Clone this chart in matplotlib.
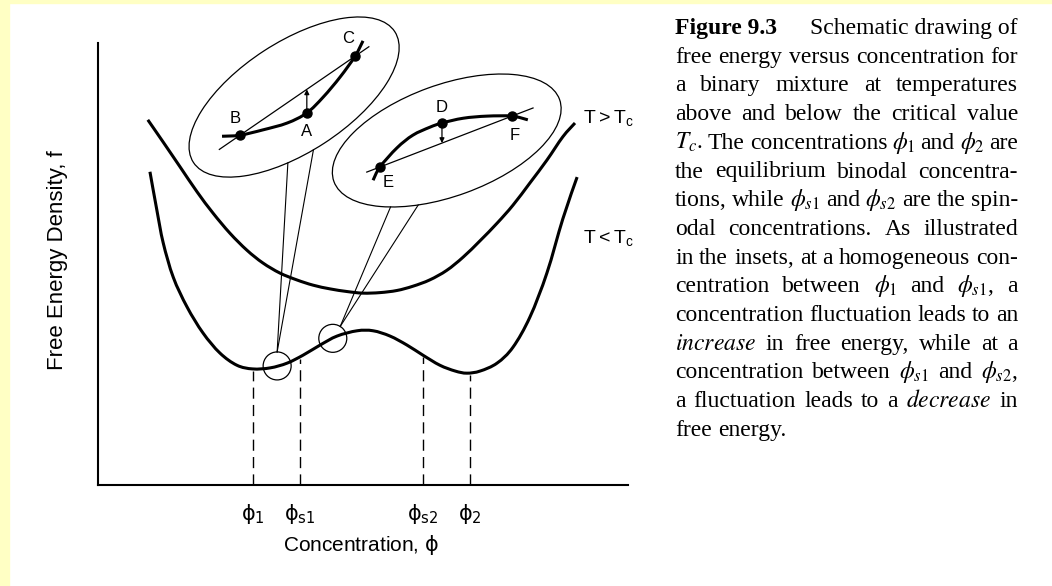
import numpy as np
import matplotlib
matplotlib.use('Agg')
import matplotlib.pyplot as plt
from matplotlib.patches import Ellipse, Circle, Rectangle, PathPatch
from matplotlib.path import Path

# free energy density f(phi) above and below Tc (arbitrary units, same scale on both axes)
phi_hot = [0.094, 0.123, 0.155, 0.187, 0.217, 0.249, 0.281, 0.311, 0.343, 0.375,
           0.406, 0.438, 0.470, 0.500, 0.532, 0.564, 0.594, 0.626, 0.658, 0.689,
           0.721, 0.753, 0.783, 0.815, 0.847, 0.877, 0.900]
f_hot = [0.689, 0.647, 0.600, 0.553, 0.513, 0.475, 0.443, 0.419, 0.400, 0.387,
         0.377, 0.370, 0.365, 0.362, 0.363, 0.367, 0.375, 0.387, 0.405, 0.430,
         0.461, 0.494, 0.528, 0.570, 0.613, 0.657, 0.683]

phi_cold = [0.098, 0.111, 0.123, 0.142, 0.168, 0.198, 0.230, 0.262, 0.292, 0.325,
            0.357, 0.387, 0.419, 0.451, 0.489, 0.519, 0.551, 0.583, 0.613, 0.645,
            0.674, 0.696, 0.721, 0.753, 0.783, 0.815, 0.847, 0.877, 0.904]
f_cold = [0.591, 0.519, 0.457, 0.392, 0.336, 0.287, 0.249, 0.226, 0.219, 0.221,
          0.230, 0.245, 0.264, 0.281, 0.291, 0.291, 0.281, 0.264, 0.245, 0.226,
          0.215, 0.211, 0.215, 0.230, 0.260, 0.317, 0.400, 0.502, 0.581]

# binodal and spinodal concentrations
phi_marks = [0.292, 0.381, 0.613, 0.702]
mark_labels = [r'$\mathrm{\phi_1}$', r'$\mathrm{\phi_{s1}}$',
               r'$\mathrm{\phi_{s2}}$', r'$\mathrm{\phi_2}$']

# homogeneous concentrations magnified in the insets
phi_probe = [0.338, 0.443]

# inset 1: stable region (convex), points B, A, C
ins1_phi = [0.234, 0.268, 0.311, 0.357, 0.394, 0.425, 0.457, 0.485, 0.500]
ins1_f = [0.658, 0.660, 0.670, 0.683, 0.702, 0.732, 0.770, 0.809, 0.838]
ins1_pts = {'B': 1, 'A': 4, 'C': 7}

# inset 2: unstable region (concave), points E, D, F
ins2_phi = [0.519, 0.532, 0.564, 0.594, 0.626, 0.649, 0.689, 0.734, 0.781, 0.811]
ins2_f = [0.575, 0.600, 0.636, 0.660, 0.675, 0.683, 0.692, 0.696, 0.696, 0.689]
ins2_pts = {'E': 1, 'D': 5, 'F': 8}

caption = [
    'free energy versus concentration for',
    'a binary mixture at temperatures',
    'above and below the critical value',
    r'$T_c$. The concentrations $\phi_1$ and $\phi_2$ are',
    'the equilibrium binodal concentra-',
    r'tions, while $\phi_{s1}$ and $\phi_{s2}$ are the spin-',
    'odal concentrations. As illustrated',
    'in the insets, at a homogeneous con-',
    r'centration between $\phi_1$ and $\phi_{s1}$, a',
    'concentration fluctuation leads to an',
    r'$\mathit{increase}$ in free energy, while at a',
    r'concentration between $\phi_{s1}$ and $\phi_{s2}$,',
    r'a fluctuation leads to a $\mathit{decrease}$ in',
    'free energy.',
]

W, H = 1052, 586
fig = plt.figure(figsize=(W / 100, H / 100), dpi=100)
fig.patch.set_facecolor('white')
fig.patches.append(Rectangle((0, 0), 9 / W, 1, transform=fig.transFigure,
                             color='#ffffc4', zorder=0))
fig.patches.append(Rectangle((0, 1 - 3 / H), 1, 3 / H, transform=fig.transFigure,
                             color='#ffffc4', zorder=0))

ax = fig.add_axes([98 / W, (H - 485) / H, 530 / W, 442 / H])
ax.set_xlim(0, 1)
ax.set_ylim(0, 442 / 530)
ax.set_facecolor('none')
for s in ['top', 'right']:
    ax.spines[s].set_visible(False)
for s in ['left', 'bottom']:
    ax.spines[s].set_linewidth(1.5)
ax.set_xticks([])
ax.set_yticks([])

sans = 'Liberation Sans'
ax.set_ylabel('Free Energy Density, f', family=sans, fontsize=16)
ax.yaxis.set_label_coords(-0.057, 0.509)
ax.set_xlabel(r'Concentration, $\mathrm{\phi}$', family=sans, fontsize=15,
              math_fontfamily='dejavusans')
ax.xaxis.set_label_coords(0.496, -0.108)


def smooth_line(xs, ys, **kw):
    # Catmull-Rom through the points, drawn as cubic Bezier segments
    p = np.column_stack([xs, ys])
    ext = np.vstack([p[0], p, p[-1]])
    verts = [p[0]]
    codes = [Path.MOVETO]
    for i in range(len(p) - 1):
        p0, p1, p2, p3 = ext[i], ext[i + 1], ext[i + 2], ext[i + 3]
        verts += [p1 + (p2 - p0) / 6, p2 - (p3 - p1) / 6, p2]
        codes += [Path.CURVE4] * 3
    ax.add_patch(PathPatch(Path(verts, codes), fill=False, clip_on=False, **kw))


smooth_line(phi_hot, f_hot, ec='k', lw=2.2, capstyle='butt')
smooth_line(phi_cold, f_cold, ec='k', lw=2.2, capstyle='butt')

ax.text(0.915, 0.692, r'$\mathregular{T > T_c}$', family=sans, fontsize=14, va='center')
ax.text(0.915, 0.466, r'$\mathregular{T < T_c}$', family=sans, fontsize=14, va='center')

# dashed drops to the concentration axis
for p, lab in zip(phi_marks, mark_labels):
    top = np.interp(p, phi_cold, f_cold)
    ax.plot([p, p], [0, top - 0.004], color='k', lw=1.0, ls=(0, (8, 4.5)))
    ax.annotate(lab, (p, 0), xytext=(0, -12), textcoords='offset points',
                ha='center', va='top', fontsize=15, math_fontfamily='dejavusans')

# magnifying circles on the T < Tc curve
r_circ = 14 / 530
probe_f = np.interp(phi_probe, phi_cold, f_cold)
for p, fv in zip(phi_probe, probe_f):
    ax.add_patch(Circle((p, fv), r_circ, fill=False, lw=0.9, ec='k', clip_on=False))

# inset ellipses: center, width, height, angle
ell_1 = dict(xy=(0.370, 0.732), width=0.453, height=0.208, angle=33)
ell_2 = dict(xy=(0.658, 0.650), width=0.453, height=0.210, angle=20)
conn_t = [(-110, -96), (-129, -114)]   # where the leader lines meet each ellipse
conn_circ = [90, 58]                     # where they meet each circle


def on_ellipse(e, t):
    a, b = e['width'] / 2, e['height'] / 2
    th = np.radians(e['angle'])
    t = np.radians(t)
    u, v = a * np.cos(t), b * np.sin(t)
    return (e['xy'][0] + u * np.cos(th) - v * np.sin(th),
            e['xy'][1] + u * np.sin(th) + v * np.cos(th))


for e, ts, ca, p, fv in zip([ell_1, ell_2], conn_t, conn_circ, phi_probe, probe_f):
    ax.add_patch(Ellipse(e['xy'], e['width'], e['height'], angle=e['angle'],
                         fill=False, lw=0.9, ec='k', clip_on=False))
    cx = p + r_circ * np.cos(np.radians(ca))
    cy = fv + r_circ * np.sin(np.radians(ca))
    for t in ts:
        ex, ey = on_ellipse(e, t)
        ax.plot([cx, ex], [cy, ey], color='k', lw=0.8, clip_on=False)


def draw_inset(xs, ys, pts, ends, probe, offsets):
    smooth_line(xs, ys, ec='k', lw=2.2, capstyle='butt')
    p0, p1 = pts[ends[0]], pts[ends[1]]
    x0, y0, x1, y1 = xs[p0], ys[p0], xs[p1], ys[p1]
    k0, k1 = offsets
    ax.plot([x0 - k0 * (x1 - x0), x1 + k1 * (x1 - x0)],
            [y0 - k0 * (y1 - y0), y1 + k1 * (y1 - y0)],
            color='k', lw=0.9, clip_on=False)
    pm = pts[probe]
    chord = np.interp(xs[pm], [x0, x1], [y0, y1])
    ax.annotate('', xy=(xs[pm], chord), xytext=(xs[pm], ys[pm]),
                arrowprops=dict(arrowstyle='-|>', lw=0.9, color='k',
                                mutation_scale=7, shrinkA=0, shrinkB=0))
    for name, i in pts.items():
        ax.plot(xs[i], ys[i], 'o', color='k', ms=6.5, clip_on=False)


draw_inset(ins1_phi, ins1_f, ins1_pts, ('B', 'C'), 'A', (0.18, 0.12))
draw_inset(ins2_phi, ins2_f, ins2_pts, ('E', 'F'), 'D', (0.10, 0.16))

letter_offsets = {'B': (-3.6, 12.2), 'A': (0, -13.7), 'C': (-5, 13),
                  'D': (0, 11.5), 'E': (5.8, -11.5), 'F': (2, -13.7)}
for xs, ys, pts in [(ins1_phi, ins1_f, ins1_pts), (ins2_phi, ins2_f, ins2_pts)]:
    for name, i in pts.items():
        ax.annotate(name, (xs[i], ys[i]), xytext=letter_offsets[name],
                    textcoords='offset points', ha='center', va='center',
                    family=sans, fontsize=12)

# caption block, justified
cap_left, cap_right = 675, 1018
cap_base, cap_step = 34, 28.7
cap_size = 17
serif = 'Liberation Serif'


def cap_text(x, yb, s, **kw):
    opts = dict(fontsize=cap_size, family=serif, math_fontfamily='stix',
                va='baseline', ha='left')
    opts.update(kw)
    return fig.text(x / W, 1 - yb / H, s, **opts)


renderer = fig.canvas.get_renderer()
cap_text(cap_left, cap_base, 'Figure 9.3', weight='bold')
cap_text(cap_right, cap_base, 'Schematic drawing of', ha='right')
space = 0.25 * cap_size * 100 / 72
for i, line in enumerate(caption):
    yb = cap_base + cap_step * (i + 1)
    words = line.split(' ')
    items = [cap_text(cap_left, yb, w) for w in words]
    widths = [t.get_window_extent(renderer).width for t in items]
    if i == len(caption) - 1:
        gap = space
    else:
        gap = (cap_right - cap_left - sum(widths)) / (len(words) - 1)
    x = cap_left
    for t, w in zip(items, widths):
        t.set_x(x / W)
        x += w + gap

fig.savefig('out.png', dpi=100, facecolor=fig.get_facecolor())
